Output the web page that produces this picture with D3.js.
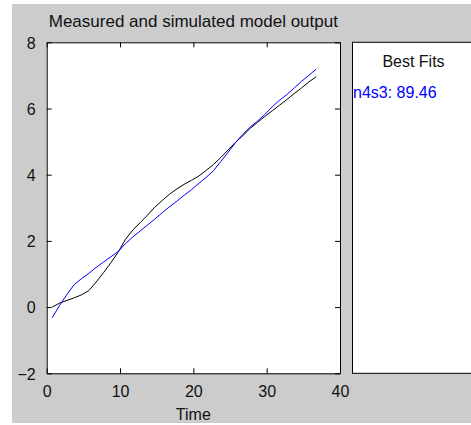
<!DOCTYPE html>
<html>
<head>
<meta charset="utf-8">
<script src="https://cdn.jsdelivr.net/npm/d3@7"></script>
<style>
  html, body { margin: 0; padding: 0; background: #ffffff; }
  svg { display: block; font-family: "Liberation Sans", Arial, sans-serif; }
</style>
</head>
<body>
<svg id="chart" width="471" height="425"></svg>
<script>
// ---- data ----
const time = [0.75, 1.75, 2.75, 3.75, 4.75, 5.75, 6.75, 7.75, 8.75, 9.75,
  10.75, 11.75, 12.75, 13.75, 14.75, 15.75, 16.75, 17.75, 18.75, 19.75,
  20.75, 21.75, 22.75, 23.75, 24.75, 25.75, 26.75, 27.75, 28.75, 29.75,
  30.75, 31.75, 32.75, 33.75, 34.75, 35.75, 36.75];
const measured = [0.00, 0.12, 0.20, 0.28, 0.37, 0.50, 0.76, 1.04, 1.34, 1.66,
  2.05, 2.33, 2.55, 2.78, 3.02, 3.22, 3.41, 3.57, 3.71, 3.83,
  3.96, 4.13, 4.31, 4.52, 4.75, 4.98, 5.18, 5.40, 5.58, 5.76,
  5.93, 6.10, 6.27, 6.45, 6.62, 6.80, 6.96];
const simulated = [-0.32, 0.05, 0.38, 0.68, 0.86, 1.02, 1.20, 1.36, 1.52, 1.68,
  1.92, 2.12, 2.30, 2.48, 2.66, 2.85, 3.03, 3.20, 3.38, 3.55,
  3.74, 3.92, 4.12, 4.40, 4.68, 4.97, 5.22, 5.44, 5.62, 5.82,
  6.05, 6.25, 6.42, 6.62, 6.82, 7.00, 7.19];
const xTicks = [0, 10, 20, 30, 40];
const yTicks = [-2, 0, 2, 4, 6, 8];
const titleText = "Measured and simulated model output";
const xLabel = "Time";
const legendTitle = "Best Fits";
const fitLabel = "n4s3: 89.46";

// ---- layout ----
const svg = d3.select("#chart");
const L = 46.7, R = 340, T = 42.3, B = 373.3;
const x = d3.scaleLinear().domain([0, 40]).range([L, R]);
const y = d3.scaleLinear().domain([-2, 8]).range([B, T]);

// figure background
svg.append("rect").attr("x", 12).attr("y", 4).attr("width", 471 - 12).attr("height", 423 - 4)
  .attr("fill", "#cccccc");

// plot area
svg.append("rect").attr("x", L).attr("y", T).attr("width", R - L).attr("height", B - T)
  .attr("fill", "#ffffff");

// right panel
svg.append("rect").attr("x", 352.5).attr("y", T).attr("width", 140).attr("height", B - T)
  .attr("fill", "#ffffff").attr("stroke", "#000").attr("stroke-width", 1);

const fontSize = 16;
// axes with inside ticks
const gB = svg.append("g").attr("transform", `translate(0,${B})`)
  .call(d3.axisBottom(x).tickValues(xTicks).tickSizeInner(-5).tickSizeOuter(0).tickPadding(12));
const gT = svg.append("g").attr("transform", `translate(0,${T})`)
  .call(d3.axisTop(x).tickValues(xTicks).tickSizeInner(-5).tickSizeOuter(0).tickFormat(""));
const gL = svg.append("g").attr("transform", `translate(${L},0)`)
  .call(d3.axisLeft(y).tickValues(yTicks).tickSizeInner(-5).tickSizeOuter(0).tickPadding(11));
const gR = svg.append("g").attr("transform", `translate(${R},0)`)
  .call(d3.axisRight(y).tickValues(yTicks).tickSizeInner(-5).tickSizeOuter(0).tickFormat(""));

[gB, gT, gL, gR].forEach(g => {
  g.selectAll("path.domain").attr("stroke", "#000").attr("stroke-width", 1);
  g.selectAll(".tick line").attr("stroke", "#000");
  g.selectAll("text").attr("fill", "#111").attr("font-size", fontSize)
    .attr("font-family", "'Liberation Sans', Arial, sans-serif");
});
gL.selectAll(".tick text").attr("dy", "0.36em");

// lines
const line = d3.line().x((d, i) => x(time[i])).y(d => y(d));
svg.append("path").datum(measured).attr("d", line)
  .attr("fill", "none").attr("stroke", "#000").attr("stroke-width", 1);
svg.append("path").datum(simulated).attr("d", line)
  .attr("fill", "none").attr("stroke", "#0000ff").attr("stroke-width", 1);

// texts
svg.append("text").attr("x", (L + R) / 2).attr("y", 27).attr("text-anchor", "middle")
  .attr("font-size", 17).attr("fill", "#111").text(titleText);
svg.append("text").attr("x", (L + R) / 2).attr("y", 420).attr("text-anchor", "middle")
  .attr("font-size", fontSize).attr("fill", "#111").text(xLabel);
svg.append("text").attr("x", 413.5).attr("y", 66.5).attr("text-anchor", "middle")
  .attr("font-size", fontSize).attr("fill", "#111").text(legendTitle);
svg.append("text").attr("x", 353).attr("y", 98).attr("text-anchor", "start")
  .attr("font-size", fontSize).attr("fill", "#0000ff").text(fitLabel);
</script>
</body>
</html>
